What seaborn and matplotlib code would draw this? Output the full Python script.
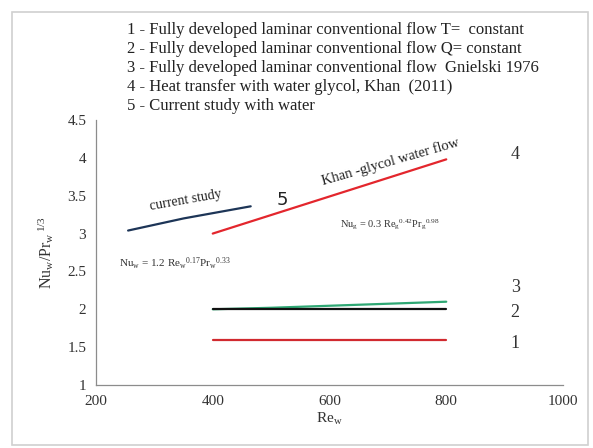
import matplotlib
matplotlib.use("Agg")
import matplotlib.pyplot as plt
import seaborn as sns
import pandas as pd
from matplotlib.patches import Rectangle

# ---- data ----
re_const = [400, 800]
nu_T_const = [1.6, 1.6]          # 1
nu_Q_const = [2.0, 2.0]          # 2
re_gn = [400, 500, 800]
nu_gnielski = [2.0, 2.02, 2.1]   # 3
re_khan = [400, 800]
nu_khan = [3.0, 3.98]            # 4
re_cur = [255, 350, 465]
nu_current = [3.04, 3.20, 3.36]  # 5

legend_lines = [
    "1 - Fully developed laminar conventional flow T=  constant",
    "2 - Fully developed laminar conventional flow Q= constant",
    "3 - Fully developed laminar conventional flow  Gnielski 1976",
    "4 - Heat transfer with water glycol, Khan  (2011)",
    "5 - Current study with water",
]
xticks = [200, 400, 600, 800, 1000]
yticks = [1, 1.5, 2, 2.5, 3, 3.5, 4, 4.5]
ytick_labels = ["1", "1.5", "2", "2.5", "3", "3.5", "4", "4.5"]

sns.set_theme(style="white")
plt.rcParams["font.family"] = ["Liberation Serif", "DejaVu Serif"]
plt.rcParams["mathtext.fontset"] = "custom"
plt.rcParams["mathtext.rm"] = "Liberation Serif"
plt.rcParams["mathtext.it"] = "Liberation Serif"

fig = plt.figure(figsize=(5.93, 4.48), dpi=100)
fig.patch.set_facecolor("white")
ax = fig.add_axes([96/593, 1-385/448, 467/593, 265/448])

lw = 1.6
sns.lineplot(x=re_const, y=nu_T_const, ax=ax, color="#d12a2f", lw=lw)
sns.lineplot(x=re_gn, y=nu_gnielski, ax=ax, color="#2fa874", lw=lw)
sns.lineplot(x=re_const, y=nu_Q_const, ax=ax, color="#111111", lw=lw)
sns.lineplot(x=re_khan, y=nu_khan, ax=ax, color="#e3262d", lw=lw)
sns.lineplot(x=re_cur, y=nu_current, ax=ax, color="#1d3557", lw=lw)

ax.set_xlim(200, 1000)
ax.set_ylim(1, 4.5)
ax.set_xticks(xticks)
ax.set_xticklabels([str(v) for v in xticks])
ax.set_yticks(yticks)
ax.set_yticklabels(ytick_labels)
for s in ["top", "right"]:
    ax.spines[s].set_visible(False)
for s in ["left", "bottom"]:
    ax.spines[s].set_color("#8c8c8c")
    ax.spines[s].set_linewidth(0.9)
ax.tick_params(axis="both", direction="out", length=4, width=0.8, color="#8c8c8c",
               labelsize=11, labelcolor="#333333", pad=3)
ax.grid(False)
ax.set_facecolor("white")

ax.set_xlabel(r"$\mathrm{Re_w}$", fontsize=11, color="#333333", labelpad=2)
ax.set_ylabel(r"$\mathrm{Nu_w/Pr_w}^{\,1/3}$", fontsize=11.5, color="#333333", labelpad=8)

# annotations
ax.text(354, 3.44, "current study", rotation=10, fontsize=10, ha="center", va="center", color="#222222")
ax.text(705, 3.95, "Khan -glycol water flow", rotation=16, fontsize=10.5, ha="center", va="center", color="#222222")
ax.text(520, 3.45, "5", fontsize=13, family=["DejaVu Sans"], ha="center", va="center", color="#222222")
ax.text(704, 3.11, r"$\mathrm{Nu_g}$ = 0.3 $\mathrm{Re_g}^{0.42}\mathrm{Pr_g}^{0.98}$", fontsize=7.5,
        ha="center", va="center", color="#333333")
ax.text(335, 2.6, r"$\mathrm{Nu_w}$ = 1.2 $\mathrm{Re_w}^{0.17}\mathrm{Pr_w}^{0.33}$", fontsize=8,
        ha="center", va="center", color="#333333")
for lab, yv in [("4", 4.04), ("3", 2.29), ("2", 1.96), ("1", 1.55)]:
    ax.text(918, yv, lab, fontsize=13, ha="center", va="center", color="#333333")

# legend text block
for i, line in enumerate(legend_lines):
    fig.text(127/593, 1 - (30 + 19*i)/448, line, fontsize=12, ha="left", va="center", color="#222222")

# outer frame
fig.patches.append(Rectangle((12/593, 3/448), 576/593, 433/448, transform=fig.transFigure,
                             fill=False, edgecolor="#d0d0d0", lw=1.2))

fig.savefig("out.png", dpi=100)
